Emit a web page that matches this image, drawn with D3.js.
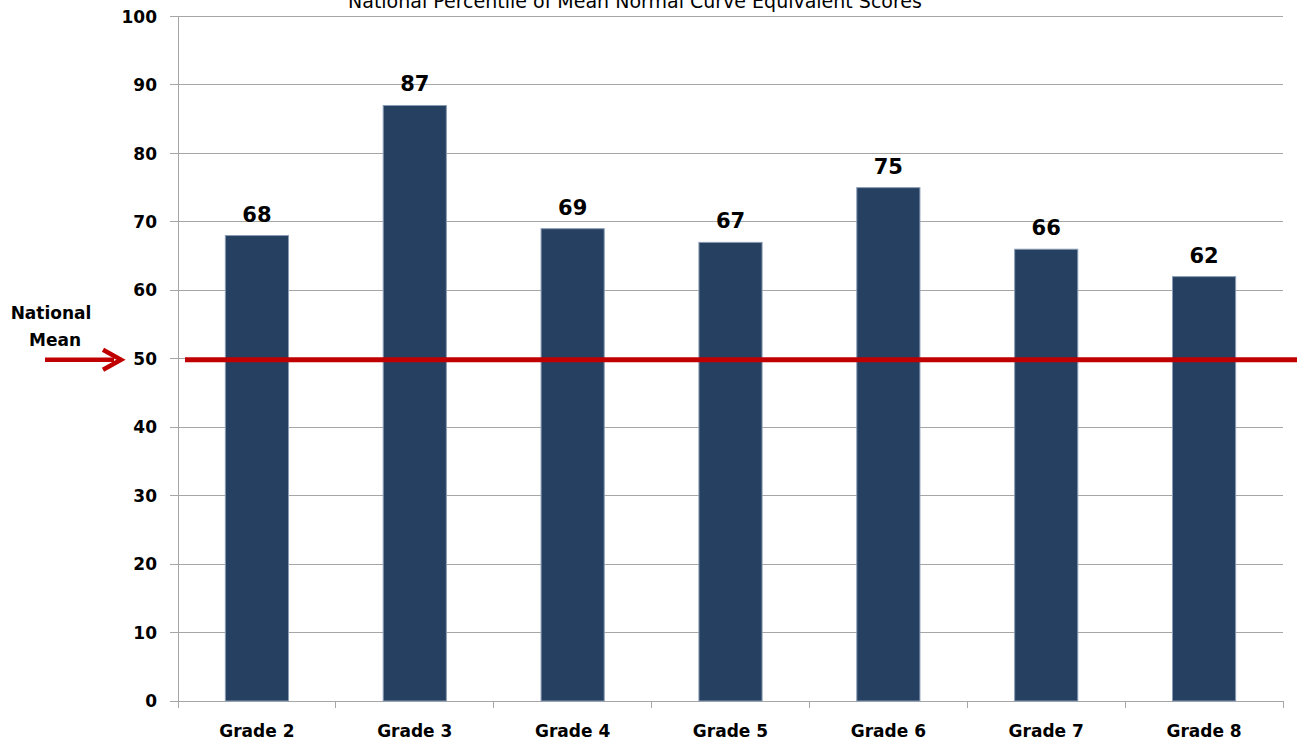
<!DOCTYPE html>
<html><head><meta charset="utf-8">
<script src="https://cdn.jsdelivr.net/npm/d3@7"></script>
<style>body{margin:0;background:#fff;}svg{display:block;font-family:"DejaVu Sans",sans-serif;}</style>
</head><body>
<script>
const categories = ["Grade 2","Grade 3","Grade 4","Grade 5","Grade 6","Grade 7","Grade 8"];
const values = [68,87,69,67,75,66,62];
const yTicks = [0,10,20,30,40,50,60,70,80,90,100];
const nationalMean = 50;
const title = "National Percentile of Mean Normal Curve Equivalent Scores";

const W = 1297, H = 745;
const svg = d3.select("body").append("svg").attr("width",W).attr("height",H);
const x = d3.scaleBand().domain(categories).range([178,1283]).paddingInner(0.6).paddingOuter(0.3);
const xb = d3.scaleBand().domain(categories).range([178,1283]);
const y = d3.scaleLinear().domain([0,100]).range([701,16.5]);

// gridlines
svg.append("g").selectAll("line").data(yTicks).join("line")
  .attr("x1",170).attr("x2",1283).attr("y1",d=>y(d)).attr("y2",d=>y(d))
  .attr("stroke","#a6a6a6").attr("stroke-width",1).attr("shape-rendering","crispEdges");
// y axis line
svg.append("line").attr("x1",178).attr("x2",178).attr("y1",y(100)).attr("y2",y(0))
  .attr("stroke","#a6a6a6").attr("shape-rendering","crispEdges");
// x tick marks
svg.append("g").selectAll("line").data(categories.concat(["_end"])).join("line")
  .attr("x1",(d,i)=> i<categories.length ? xb(d) : 1283)
  .attr("x2",(d,i)=> i<categories.length ? xb(d) : 1283)
  .attr("y1",y(0)).attr("y2",y(0)+7)
  .attr("stroke","#a6a6a6").attr("shape-rendering","crispEdges");

// y labels
svg.append("g").selectAll("text").data(yTicks).join("text")
  .attr("x",157).attr("y",d=>y(d)).attr("dy","0.36em").attr("text-anchor","end")
  .attr("font-size",17).attr("font-weight","bold").attr("fill","#000").text(d=>d);

// bars
svg.append("g").selectAll("rect").data(values).join("rect")
  .attr("x",(d,i)=>x(categories[i])).attr("width",x.bandwidth())
  .attr("y",d=>y(d)).attr("height",d=>y(0)-y(d))
  .attr("fill","#264061").attr("stroke","#8a9cb5").attr("stroke-width",1);

// value labels
svg.append("g").selectAll("text").data(values).join("text")
  .attr("x",(d,i)=>x(categories[i])+x.bandwidth()/2).attr("y",d=>y(d)-14)
  .attr("text-anchor","middle").attr("font-size",21).attr("font-weight","bold").attr("fill","#000").text(d=>d);

// x labels
svg.append("g").selectAll("text").data(categories).join("text")
  .attr("x",d=>xb(d)+xb.bandwidth()/2).attr("y",737)
  .attr("text-anchor","middle").attr("font-size",17).attr("font-weight","bold").attr("fill","#000").text(d=>d);

// national mean line
svg.append("line").attr("x1",185).attr("x2",1297).attr("y1",y(nationalMean)+1).attr("y2",y(nationalMean)+1)
  .attr("stroke","#c00000").attr("stroke-width",5);

// title
svg.append("text").attr("x",635).attr("y",8).attr("text-anchor","middle")
  .attr("font-size",19).attr("fill","#000").text(title);

// National Mean annotation
svg.append("text").attr("x",51).attr("y",319).attr("text-anchor","middle")
  .attr("font-size",17).attr("font-weight","bold").text("National");
svg.append("text").attr("x",55).attr("y",346).attr("text-anchor","middle")
  .attr("font-size",17).attr("font-weight","bold").text("Mean");
const ay = y(nationalMean)+1;
svg.append("line").attr("x1",45).attr("x2",114).attr("y1",ay).attr("y2",ay)
  .attr("stroke","#c00000").attr("stroke-width",4.5);
svg.append("path").attr("d",`M103,${ay-10} L121,${ay} L103,${ay+10}`)
  .attr("fill","none").attr("stroke","#c00000").attr("stroke-width",4.5).attr("stroke-linejoin","miter");
</script>
</body></html>
